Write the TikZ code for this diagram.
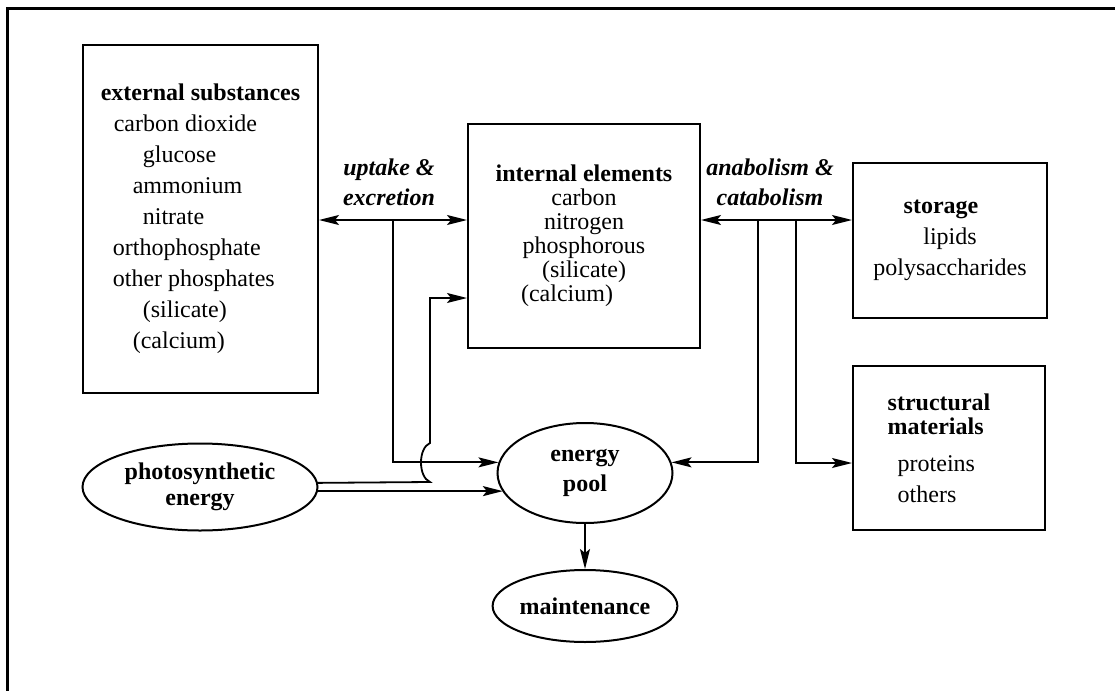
\documentclass[tikz,border=0pt]{standalone}
\usepackage{fontspec}
\setmainfont{Liberation Serif}
\usepackage{tikz}
\usetikzlibrary{shapes, arrows.meta, positioning, calc}
\tikzstyle{block} = [rectangle, draw, line width=1pt, inner sep=0pt, font={\fontsize{12}{15.5}\selectfont}]
\tikzstyle{reservoir} = [ellipse, draw, line width=1pt, inner sep=0pt, align=center, font={\bfseries\fontsize{12}{15}\selectfont}]
\tikzstyle{arrow} = [line width=0.9pt, ->, >={Stealth[length=10pt,width=5pt,inset=2pt]}]
\tikzstyle{flowlabel} = [align=center, font={\bfseries\itshape\fontsize{12}{15}\selectfont}]

\begin{document}
\begin{tikzpicture}[x=0.5pt, y=-0.5pt]
    \useasboundingbox (0,0) rectangle (1115,691);
    % frame, cut by the page on the right and at the bottom
    \draw[line width=1.5pt] (7,8) rectangle (1140,720);

    \node[block, minimum width=117.5pt, minimum height=174pt, align=left] (ext) at (200.5,219) {\textbf{external substances}\\
        \hspace*{6.5pt}carbon dioxide\\
        \hspace*{21pt}glucose\\
        \hspace*{16pt}ammonium\\
        \hspace*{21pt}nitrate\\
        \hspace*{6pt}orthophosphate\\
        \hspace*{6pt}other phosphates\\
        \hspace*{21pt}(silicate)\\
        \hspace*{16pt}(calcium)};
    \node[block, minimum width=116pt, minimum height=112pt, align=center, font={\fontsize{12}{12}\selectfont}] (int) at (584,236) {\textbf{internal elements}\\carbon\\nitrogen\\phosphorous\\(silicate)\\(calcium)\hspace*{17pt}};
    \node[block, minimum width=97pt, minimum height=77.5pt, align=center] (sto) at (950,240.5) {\textbf{storage}\hspace*{9pt}\\lipids\hspace*{10pt}\\polysaccharides};
    \node[block, minimum width=96pt, minimum height=82pt, align=left, font={\fontsize{12}{12}\selectfont}] (str) at (949,448) {\textbf{structural}\hspace*{10pt}\\\textbf{materials}\\[6.5pt]\hspace*{5pt}proteins\\[3.5pt]\hspace*{5pt}others};

    \node[reservoir, minimum width=117.5pt, minimum height=43.5pt, font={\bfseries\fontsize{12}{13}\selectfont}] (photo) at (200,487) {photosynthetic\\energy};
    \node[reservoir, minimum width=87.5pt, minimum height=50pt] (pool) at (585,473) {energy\\pool};
    \node[reservoir, minimum width=87.5pt, minimum height=36pt, below=22.5pt of pool] (maint) {maintenance};

    \node[flowlabel] (upl) at (389,182) {uptake \&\\excretion};
    \node[flowlabel] (anl) at (770,182) {anabolism \&\\catabolism};

    % junctions
    \coordinate (upt) at (393,220);
    \coordinate (ana) at (758,220);
    \coordinate (anb) at (796,220);
    \coordinate (hopb) at (430,482);
    \coordinate (hopt) at (430,443);
    \coordinate (ret) at (430,298);

    \draw[arrow, <->] (ext.east |- upt) -- (int.west |- upt);
    \draw[arrow] (upt) |- (pool.173);
    \draw[arrow] (photo.2.5) -- (hopb) .. controls ($(hopb)+(-12,-5)$) and ($(hopt)+(-12,5)$) .. (hopt) -- (ret) -- (int.west |- ret);
    \draw[arrow] (photo.-2.5) -- (photo.-2.5 -| pool.193);
    \draw[arrow] (pool) -- (maint);
    \draw[arrow, <->] (int.east |- ana) -- (sto.west |- ana);
    \draw[arrow] (ana) |- (pool.7);
    \draw[arrow] (anb) |- ($(str.west)+(0,15)$);
\end{tikzpicture}
\end{document}
